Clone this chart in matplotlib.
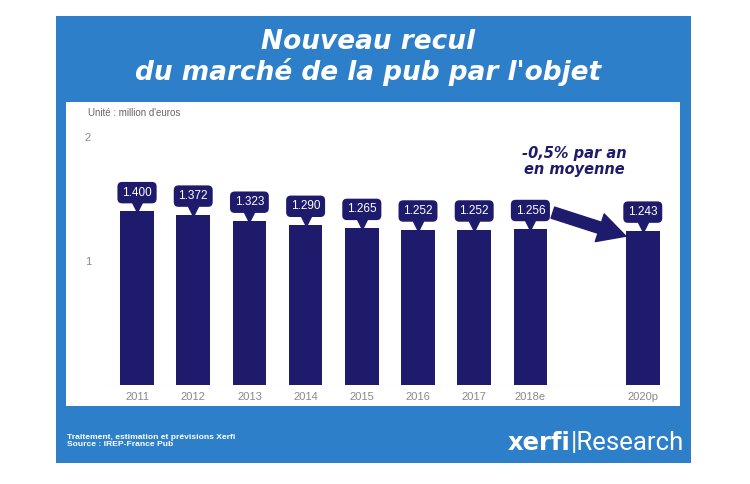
import matplotlib.pyplot as plt
from matplotlib.patches import Rectangle
from matplotlib.transforms import offset_copy

# Data
years = ['2011', '2012', '2013', '2014', '2015', '2016', '2017', '2018e', '2020p']
positions = [0, 1, 2, 3, 4, 5, 6, 7, 9]
values = [1.400, 1.372, 1.323, 1.290, 1.265, 1.252, 1.252, 1.256, 1.243]
labels = ['1.400', '1.372', '1.323', '1.290', '1.265', '1.252', '1.252', '1.256', '1.243']

blue = '#2e7fca'
navy = '#1e1b6c'
W, H = 750, 484

fig = plt.figure(figsize=(7.5, 4.84), dpi=100)
fig.patch.set_facecolor('white')

def px(x0, y0, x1, y1):
    # pixel box (top-left origin) -> figure fraction rect
    return (x0 / W, 1 - y1 / H, (x1 - x0) / W, (y1 - y0) / H)

r = px(56, 16, 691, 463)
fig.patches.append(Rectangle(r[:2], r[2], r[3], transform=fig.transFigure,
                             facecolor=blue, edgecolor='none', zorder=0))
r = px(66, 102, 680, 406)
fig.patches.append(Rectangle(r[:2], r[2], r[3], transform=fig.transFigure,
                             facecolor='white', edgecolor='none', zorder=1))

# Title
fig.text(368 / W, 1 - 42 / H, 'Nouveau recul', color='white', fontsize=19,
         fontweight='heavy', style='italic', ha='center', va='center',
         family='DejaVu Sans', zorder=3)
fig.text(368 / W, 1 - 72 / H, "du marché de la pub par l'objet", color='white',
         fontsize=19, fontweight='heavy', style='italic', ha='center',
         va='center', family='DejaVu Sans', zorder=3)

fig.text(88 / W, 1 - 113 / H, "Unité : million d'euros", color='#666666',
         fontsize=7, ha='left', va='center', family='Liberation Sans', zorder=3)

# Bar axes
ax = fig.add_axes(px(105, 137, 672, 385))
ax.set_zorder(2)
ax.patch.set_alpha(0)
ax.bar(positions, values, width=0.6, color=navy, zorder=2)
ax.set_xlim(-0.57, 9.52)
ax.set_ylim(0, 2)
ax.axhline(0, color='#bbbbbb', linestyle=(0, (3, 3)), linewidth=0.8, zorder=1)
for s in ax.spines.values():
    s.set_visible(False)
ax.set_yticks([1, 2])
ax.set_yticklabels(['1', '2'], color='#888888', fontsize=8, family='Liberation Sans')
ax.tick_params(axis='y', length=0, pad=10)
ax.set_xticks(positions)
ax.set_xticklabels(years, color='#888888', fontsize=8, family='Liberation Sans')
ax.tick_params(axis='x', length=0, pad=5)

# Value labels with pointer
tri = offset_copy(ax.transData, fig=fig, y=4, units='dots')
for p, v, lab in zip(positions, values, labels):
    ax.annotate(lab, (p, v), xytext=(0, 13.5), textcoords='offset points',
                ha='center', va='center', color='white', fontsize=8.5,
                family='Liberation Sans', annotation_clip=False,
                bbox=dict(boxstyle='round,pad=0.4,rounding_size=0.4',
                          fc=navy, ec='none'))
    ax.plot(p, v, marker='v', markersize=7, color=navy, transform=tri,
            clip_on=False, zorder=3)

# Arrow and annotation
ax.annotate('', xy=(8.7, 1.2), xytext=(7.4, 1.39), annotation_clip=False,
            arrowprops=dict(arrowstyle='simple,head_length=0.9,head_width=0.95,tail_width=0.38',
                            mutation_scale=22, fc=navy, ec=navy,
                            shrinkA=0, shrinkB=0))
ax.text(7.78, 1.8, '-0,5% par an\nen moyenne', color=navy, fontsize=10.5,
        fontweight='bold', style='italic', ha='center', va='center',
        family='DejaVu Sans', linespacing=1.1)

# Footer
fig.text(67 / W, 1 - 441 / H, 'Traitement, estimation et prévisions Xerfi\nSource : IREP-France Pub',
         color='white', fontsize=6.1, fontweight='bold', ha='left', va='center',
         family='Liberation Sans', linespacing=1.0, zorder=3)
fig.text(508 / W, 1 - 443 / H, 'xerfi', color='white', fontsize=17.5,
         fontweight='heavy', ha='left', va='center', family='DejaVu Sans', zorder=3)
fig.text(571 / W, 1 - 443 / H, '|Research', color='white', fontsize=18.5,
         ha='left', va='center', family='Roboto', zorder=3)

fig.savefig('out.png', dpi=100)
